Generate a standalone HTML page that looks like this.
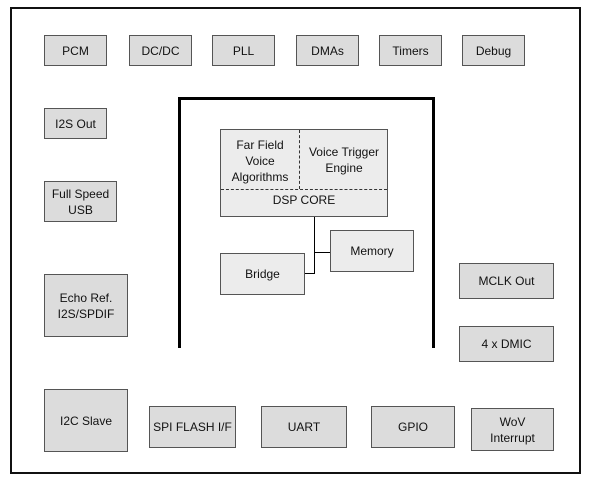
<!DOCTYPE html>
<html><head><style>
body{margin:0;width:600px;height:484px;background:#fff;position:relative;overflow:hidden;font-family:"Liberation Sans",sans-serif;}
.b{position:absolute;box-sizing:border-box;background:#dcdcdc;border:1px solid #555;display:flex;align-items:center;justify-content:center;text-align:center;font-size:12px;line-height:16px;color:#111;}
.l{position:absolute;background:#000;}
</style></head><body>
<div style="position:absolute;left:10px;top:7px;width:571px;height:467px;box-sizing:border-box;border:2px solid #111;"></div>
<div class="b" style="left:44px;top:35px;width:63px;height:31px">PCM</div>
<div class="b" style="left:129px;top:35px;width:63px;height:31px">DC/DC</div>
<div class="b" style="left:212px;top:35px;width:63px;height:31px">PLL</div>
<div class="b" style="left:296px;top:35px;width:63px;height:31px">DMAs</div>
<div class="b" style="left:379px;top:35px;width:63px;height:31px">Timers</div>
<div class="b" style="left:462px;top:35px;width:63px;height:31px">Debug</div>
<div class="b" style="left:44px;top:108px;width:63px;height:31px">I2S Out</div>
<div class="b" style="left:44px;top:181px;width:73px;height:41px">Full Speed<br>USB</div>
<div class="b" style="left:44px;top:274px;width:84px;height:63px">Echo Ref.<br>I2S/SPDIF</div>
<div class="b" style="left:44px;top:389px;width:84px;height:63px">I2C Slave</div>
<div class="b" style="left:149px;top:406px;width:87px;height:42px">SPI FLASH I/F</div>
<div class="b" style="left:261px;top:406px;width:86px;height:42px">UART</div>
<div class="b" style="left:371px;top:406px;width:84px;height:42px">GPIO</div>
<div class="b" style="left:471px;top:408px;width:83px;height:43px">WoV<br>Interrupt</div>
<div class="b" style="left:459px;top:263px;width:95px;height:36px">MCLK Out</div>
<div class="b" style="left:459px;top:326px;width:95px;height:36px">4 x DMIC</div>
<div class="l" style="left:178px;top:97px;width:257px;height:3px"></div>
<div class="l" style="left:178px;top:97px;width:3px;height:251px"></div>
<div class="l" style="left:432px;top:97px;width:3px;height:251px"></div>
<div class="b" style="left:220px;top:129px;width:168px;height:88px;display:block;background:#ececec">
<div style="position:absolute;left:0;top:7px;width:78px;font-size:12px">Far Field<br>Voice<br>Algorithms</div>
<div style="position:absolute;left:80px;top:14px;width:86px">Voice Trigger<br>Engine</div>
<div style="position:absolute;left:78px;top:0;height:59px;border-left:1px dashed #333"></div>
<div style="position:absolute;left:0;top:59px;width:166px;border-top:1px dashed #333"></div>
<div style="position:absolute;left:0;top:62px;width:166px">DSP CORE</div>
</div>
<div class="l" style="left:314px;top:217px;width:1px;height:57px"></div>
<div class="l" style="left:314px;top:252px;width:16px;height:1px"></div>
<div class="l" style="left:304px;top:273px;width:11px;height:1px"></div>
<div class="b" style="left:330px;top:230px;width:84px;height:42px;background:#ececec">Memory</div>
<div class="b" style="left:220px;top:253px;width:85px;height:42px;background:#ececec">Bridge</div>
</body></html>
